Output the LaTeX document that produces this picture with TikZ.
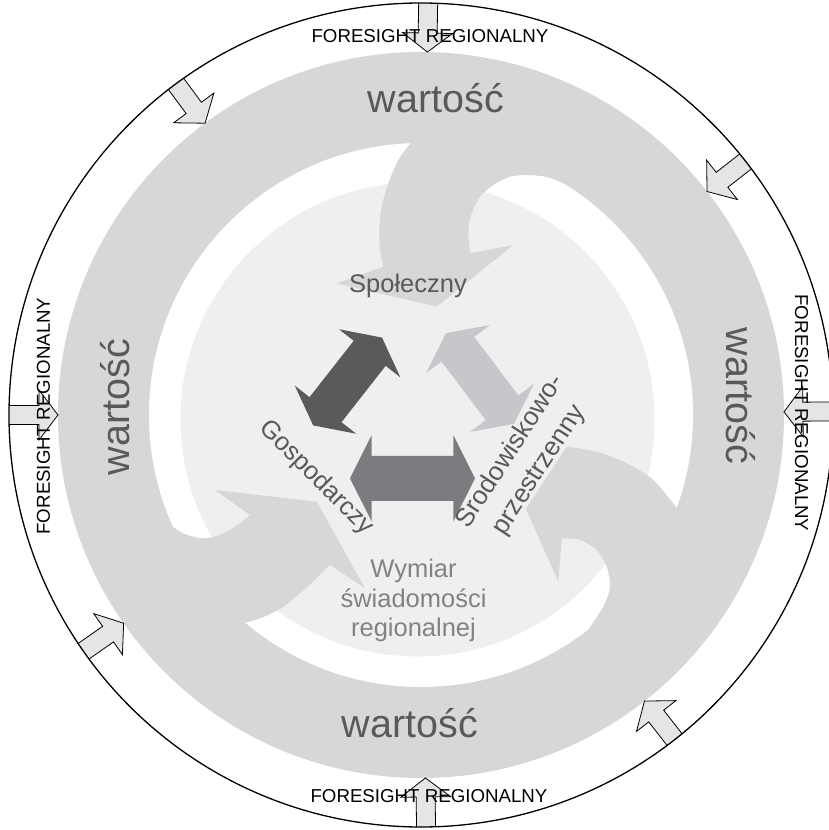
\documentclass[tikz,border=0pt]{standalone}
\usepackage{fontspec}
\setmainfont{Liberation Sans}
\usetikzlibrary{calc}
\definecolor{band}{HTML}{D6D7D9}
\definecolor{core}{HTML}{EFEFEF}
\definecolor{tabgray}{HTML}{E4E5E6}
\definecolor{darkarr}{HTML}{5A5A5C}
\definecolor{midarr}{HTML}{7B7C80}
\definecolor{palearr}{HTML}{C6C7CA}
\definecolor{ink}{HTML}{58595B}
\definecolor{soft}{HTML}{808285}
\tikzset{
  tabarrow/.style={fill=tabgray, draw=black, line width=0.8pt, line join=miter},
  vallab/.style={text=ink, inner sep=0pt, font=\fontsize{39.5}{39.5}\selectfont},
  forelab/.style={text=black, inner sep=0pt, font=\fontsize{18.7}{18.7}\selectfont},
  dimlab/.style={text=ink, inner sep=0pt, font=\fontsize{25.5}{29.5}\selectfont},
}
\begin{document}
\begin{tikzpicture}[x=1pt, y=1pt]
  \fill[white] (-421,-415) rectangle (407,415);
  \useasboundingbox (-421,-415) rectangle (407,415);
  % value ring
  \fill[band] (0,0) circle[radius=363];
  \fill[white] (0,0) circle[radius=272];
  \fill[core] (-3.5,-4.5) circle[radius=237];
  % curled arrows
  \fill[band] plot[smooth] coordinates {(-11,271) (-22.7,255) (-32.7,231.7) (-39.3,208.3) (-41.7,185) (-41,165) (-37.7,148.3)}
    -- (-84.3,131.7) -- (15.7,108.3) -- (92.3,170) -- (49,161.7)
    -- plot[smooth] coordinates {(49,161.7) (47.3,185) (50.7,201.7) (59,218.3) (72.3,230) (89,238.3) (106,240) (126,238) (144,231)}
    -- (58:320) arc[start angle=58, end angle=92.3, radius=320] -- cycle;
  \fill[band] plot[smooth] coordinates {(-178,-208) (-160,-203) (-138,-192) (-114,-172) (-91,-150)}
    -- (-56,-173.3) -- (-104.3,-86.7) -- (-206,-75) -- (-171,-100)
    -- plot[smooth] coordinates {(-171,-100) (-191,-115) (-214.3,-123.3) (-237.7,-118.3) (-254.3,-105) (-262.7,-78.3)}
    -- (196.6:320) arc[start angle=196.6, end angle=229.4, radius=320] -- cycle;
  \fill[band] plot[smooth] coordinates {(257.3,-95) (232.3,-65) (205.7,-48.3) (175.7,-36.7) (145.7,-31.7)}
    -- (105,-94) -- (137.3,-166.7) -- (140.7,-123.3)
    -- plot[smooth] coordinates {(140.7,-123.3) (159,-125) (175.7,-135) (185.7,-151.7) (189,-171.7) (182.3,-191.7) (167,-215)}
    -- (-52.2:320) arc[start angle=-52.2, end angle=-20.3, radius=320] -- cycle;
  % double arrows in the middle
  \foreach \cx/\cy/\rot/\len/\sw/\hw/\hd/\col in {-73.4/33.5/51.9/55.8/20.3/39/20/darkarr,
      59/36.5/-53/56.7/20.5/40/20/palearr, -8.5/-63.3/0/62.5/22.5/43.3/21.7/midarr}
    \fill[\col, shift={(\cx,\cy)}, rotate=\rot]
      (-\len,0) -- (-\len+\hd,\hw) -- (-\len+\hd,\sw) -- (\len-\hd,\sw) -- (\len-\hd,\hw) -- (\len,0)
      -- (\len-\hd,-\hw) -- (\len-\hd,-\sw) -- (-\len+\hd,-\sw) -- (-\len+\hd,-\hw) -- cycle;
  % labels
  \node[vallab, anchor=base] (valtop) at (15,302) {wartość};
  \node[vallab, anchor=base, rotate=90] (valleft) at (-291,8) {wartość};
  \node[vallab, anchor=base, rotate=-90] (valright) at (305,19) {wartość};
  \node[vallab, anchor=base] (valbot) at (-11,-322) {wartość};
  \node[dimlab, anchor=base] (social) at (-13,122) {Społeczny};
  \node[dimlab, rotate=-45] (econ) at (-105,-63) {Gospodarczy};
  \node[dimlab, rotate=57, align=center, font=\fontsize{26}{34}\selectfont] (envir) at (104,-45.8) {Srodowiskowo-\\przestrzenny};
  \node[dimlab, text=soft, align=center] (aware) at (-7.5,-185.5) {Wymiar\\świadomości\\regionalnej};
  % outer ring
  \foreach \a in {89,126.5,38,0.5,180,215,-52,270.7}
    \draw[tabarrow, rotate=\a] (412,9.5) -- (382,9.5) -- (382,25) -- (363,0) -- (382,-25) -- (382,-9.5) -- (412,-9.5);
  \draw[line width=1.3pt] (0,0) circle[radius=412];
  \node[forelab, anchor=base] (foretop) at (9,372.3) {FORESIGHT REGIONALNY};
  \node[forelab, anchor=base] (forebot) at (8,-387.6) {FORESIGHT REGIONALNY};
  \node[forelab, anchor=base, rotate=90] (foreleft) at (-371,-1) {FORESIGHT REGIONALNY};
  \node[forelab, anchor=base, rotate=-90] (foreright) at (374,2) {FORESIGHT REGIONALNY};
\end{tikzpicture}
\end{document}
